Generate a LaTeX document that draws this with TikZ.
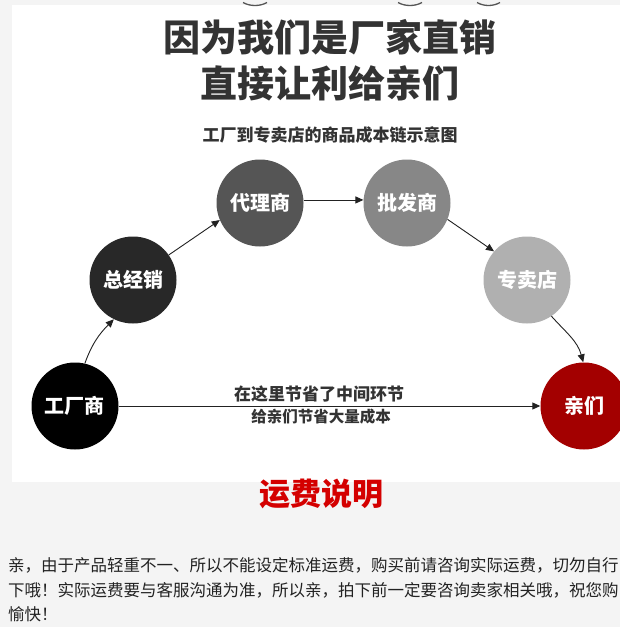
\documentclass[tikz,border=0pt]{standalone}
\usepackage{fontspec}
\newfontfamily\cjk{Noto Sans CJK SC}
\usetikzlibrary{arrows.meta}
\definecolor{bggray}{HTML}{F4F4F4}
\definecolor{titlec}{HTML}{333333}
\definecolor{c1}{HTML}{000000}
\definecolor{c2}{HTML}{282828}
\definecolor{c3}{HTML}{555555}
\definecolor{c4}{HTML}{878787}
\definecolor{c5}{HTML}{B0B0B0}
\definecolor{c6}{HTML}{A30000}
\definecolor{redt}{HTML}{D40000}
\definecolor{bodyc}{HTML}{222222}
\definecolor{arrc}{HTML}{222222}
\tikzset{
  ball/.style={circle, minimum size=87pt, inner sep=0pt, text=white,
    font=\cjk\bfseries\fontsize{20}{20}\selectfont},
  conn/.style={draw=arrc, line width=0.9pt, -{Triangle[length=8pt,width=7pt]}},
  bigtitle/.style={text=titlec, inner sep=0pt, font=\cjk\bfseries\fontsize{37}{37}\selectfont},
  bodyline/.style={text=bodyc, inner sep=0pt, anchor=west, font=\cjk\fontsize{16.5}{16.5}\selectfont},
  midtext/.style={text=titlec, inner sep=0pt, font=\cjk\bfseries\fontsize{16}{16}\selectfont},
  toparc/.style={draw=c3, line width=1.3pt}
}
\begin{document}
\begin{tikzpicture}[x=1pt,y=1pt]
\useasboundingbox (0,0) rectangle (620,-627);
\fill[bggray] (0,0) rectangle (620,-627);
\fill[white] (12,-5) rectangle (620,-482);
% partial arcs at top edge
\draw[toparc] (243,-2.5) .. controls (250,-6.5) and (260,-6.5) .. (267,-2.5);
\draw[toparc] (398,-2.5) .. controls (405,-6.5) and (415,-6.5) .. (422,-2.5);
\draw[toparc] (477,-2.5) .. controls (484,-6.5) and (493,-6.5) .. (500,-2.5);
% titles
\node[bigtitle] (t1) at (330,-37) {因为我们是厂家直销};
\node[bigtitle] (t2) at (330,-83) {直接让利给亲们};
\node[text=titlec, inner sep=0pt, font=\cjk\bfseries\fontsize{17}{17}\selectfont] (t3) at (330,-135) {工厂到专卖店的商品成本链示意图};
% circles
\node[ball, fill=c1] (gc) at (75,-406) {工厂商};
\node[ball, fill=c2] (zjx) at (133,-280) {总经销};
\node[ball, fill=c3] (dl) at (260,-203) {代理商};
\node[ball, fill=c4] (pf) at (407,-203) {批发商};
\node[ball, fill=c5] (zm) at (527,-280) {专卖店};
\node[ball, fill=c6] (qm) at (584,-406) {亲们};
% connectors
\draw[conn] (gc.77) to[out=70,in=225] (zjx.244);
\draw[conn] (zjx.35) -- (dl.203);
\draw[conn] (dl.4) -- (pf.176);
\draw[conn] (pf.-22) -- (zm.139);
\draw[conn] (zm.-56) to[out=-48,in=105] (qm.91);
\draw[conn] (gc.east) -- (qm.west);
\node[midtext, font=\cjk\bfseries\fontsize{17}{17}\selectfont] (m1) at (319,-394) {在这里节省了中间环节};
\node[midtext, font=\cjk\bfseries\fontsize{15.5}{15.5}\selectfont] (m2) at (321,-417) {给亲们节省大量成本};
% freight section
\node[text=redt, inner sep=0pt, font=\cjk\bfseries\fontsize{31}{31}\selectfont] (yf) at (321,-494) {运费说明};
\node[bodyline] (b1) at (8,-565) {亲，由于产品轻重不一、所以不能设定标准运费，购买前请咨询实际运费，切勿自行};
\node[bodyline] (b2) at (8,-590) {下哦！实际运费要与客服沟通为准，所以亲，拍下前一定要咨询卖家相关哦，祝您购};
\node[bodyline] (b3) at (8,-614) {愉快！};
\end{tikzpicture}
\end{document}
